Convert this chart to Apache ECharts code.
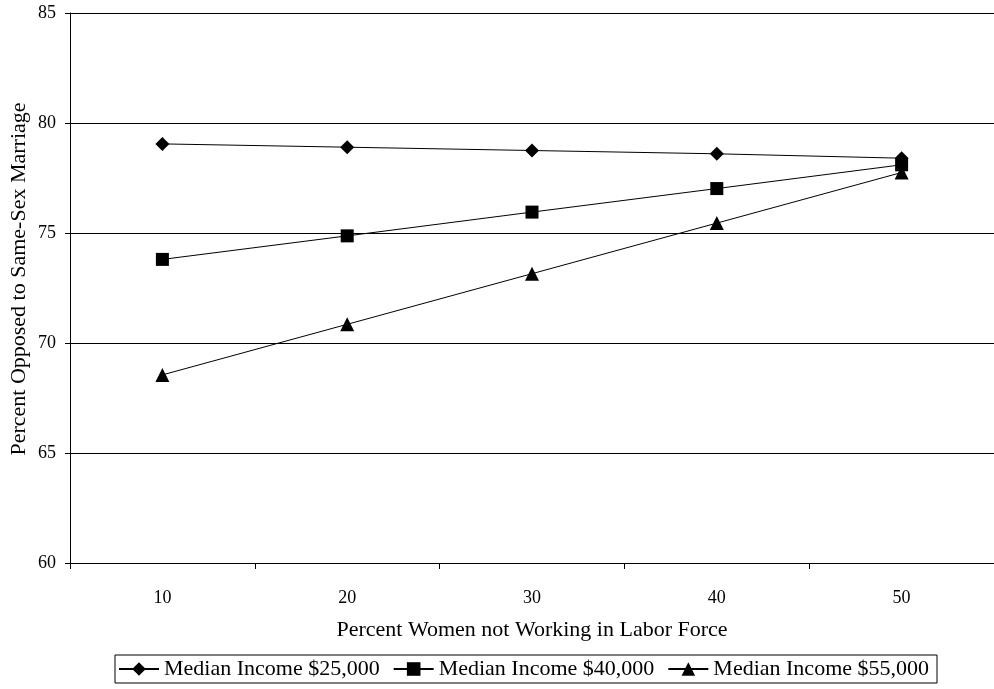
<!DOCTYPE html>
<html><head><meta charset="utf-8">
<script src="https://cdn.jsdelivr.net/npm/echarts@6/dist/echarts.min.js"></script>
<style>html,body{margin:0;padding:0;background:#fff}#c{width:994px;height:689px}</style>
</head><body><div id="c"></div>
<script>
const categories = ['10','20','30','40','50'];
const income25 = [79.05, 78.9, 78.75, 78.6, 78.4];
const income40 = [73.8, 74.87, 75.95, 77.02, 78.1];
const income55 = [68.55, 70.85, 73.15, 75.45, 77.75];
const yTicks = {min: 60, max: 85, interval: 5};
const F = 'Liberation Serif';
const chart = echarts.init(document.getElementById('c'));
function mk(name, data, symbol, size){
  return {name, type:'line', data, symbol, symbolSize:size, showSymbol:true,
    lineStyle:{color:'#000', width:1}, itemStyle:{color:'#000'}, animation:false};
}
chart.setOption({
  backgroundColor:'#fff',
  textStyle:{fontFamily:F, color:'#000'},
  grid:{left:70, right:0, top:13, bottom:126, containLabel:false, outerBoundsMode:'none'},
  xAxis:{type:'category', data:categories, boundaryGap:true,
    axisLine:{lineStyle:{color:'#000', width:1}},
    axisTick:{show:true, length:6, lineStyle:{color:'#000'}},
    axisLabel:{color:'#000', fontFamily:F, fontSize:18, margin:26},
    name:'Percent Women not Working in Labor Force', nameLocation:'middle', nameGap:56,
    nameMoveOverlap:false,
    nameTextStyle:{color:'#000', fontFamily:F, fontSize:22}},
  yAxis:{type:'value', min:yTicks.min, max:yTicks.max, interval:yTicks.interval,
    axisLine:{show:true, lineStyle:{color:'#000', width:1}},
    axisTick:{show:true, length:5, lineStyle:{color:'#000'}},
    axisLabel:{color:'#000', fontFamily:F, fontSize:18, margin:14},
    splitLine:{show:true, lineStyle:{color:'#000', width:1}},
    name:'Percent Opposed to Same-Sex Marriage', nameLocation:'middle', nameGap:40,
    nameMoveOverlap:false,
    nameTextStyle:{color:'#000', fontFamily:F, fontSize:22, padding:[0,0,0,18]}},
  legend:{top:655, left:115, itemWidth:40, itemHeight:17, itemGap:13,
    borderColor:'#000', borderWidth:1, borderRadius:0, padding:[3,8,3,3],
    textStyle:{color:'#000', fontFamily:F, fontSize:22},
    data:['Median Income $25,000','Median Income $40,000','Median Income $55,000']},
  series:[
    mk('Median Income $25,000', income25, 'diamond', 14),
    mk('Median Income $40,000', income40, 'rect', 13),
    mk('Median Income $55,000', income55, 'triangle', 14)
  ]
});
</script></body></html>
